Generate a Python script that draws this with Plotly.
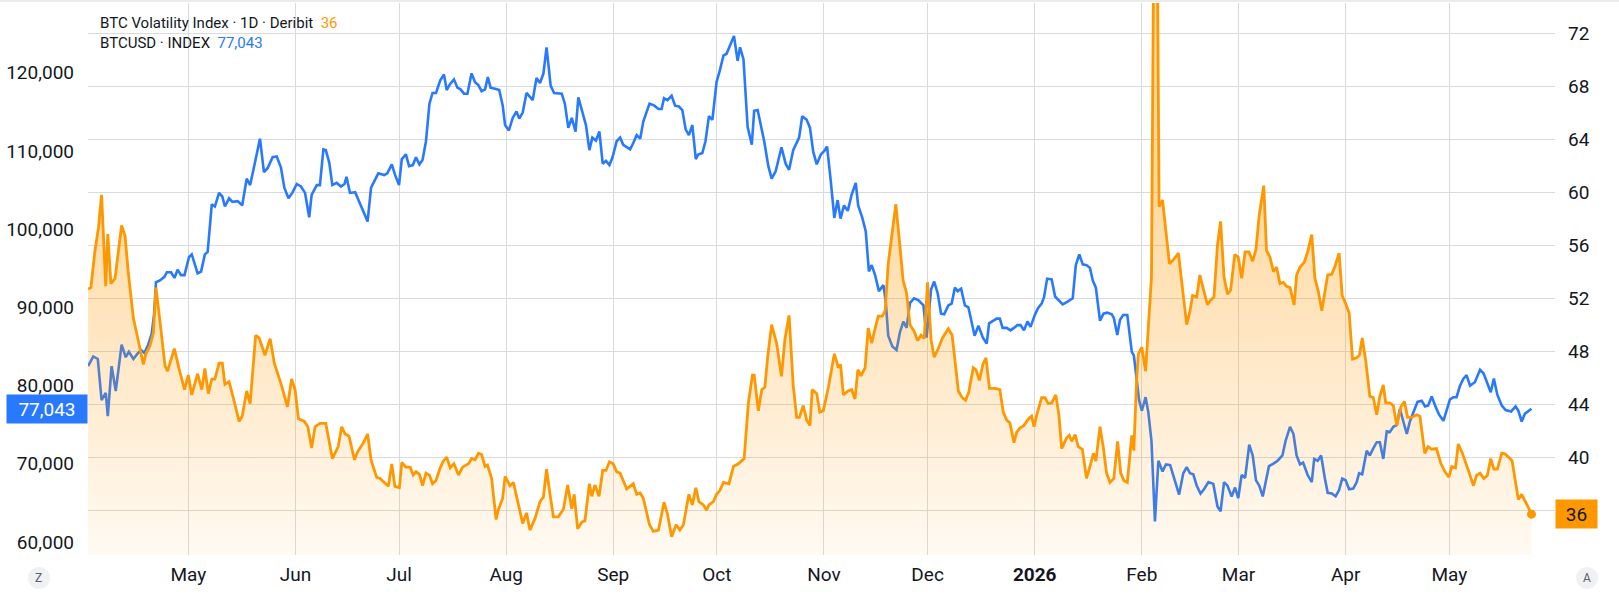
import pandas as pd
import plotly.graph_objects as go

BASE = pd.Timestamp("2025-05-01")

# ---- BTC Volatility Index (Deribit DVOL), days relative to 2025-05-01 ----
vol_days = [
    -29.0, -28.2, -27.0, -26.0, -25.1, -23.9, -23.3, -22.4, -21.2, -19.3, -18.3, -17.4, -15.9, -14.5,
    -13.0, -12.3, -11.1, -10.1, -9.35, -8.2, -6.74, -6.0, -4.04, -2.7, -1.1, 0.0, 1.0, 2.7, 3.9, 4.8,
    5.8, 6.8, 7.7, 8.9, 9.85, 10.6, 11.8, 13.3, 14.7, 15.6, 16.9, 17.9, 19.5, 20.5, 22.2, 23.7, 24.9,
    27.0, 28.7, 29.9, 30.9, 31.9, 33.6, 34.6, 35.7, 36.7, 38.1, 39.8, 41.7, 43.4, 44.4, 45.4, 46.5,
    48.1, 49.0, 50.7, 51.9, 52.9, 54.5,
    55.5, 56.7, 57.9, 58.9, 59.8, 61.1, 61.8, 63.0, 64.2, 65.1, 65.9, 66.9, 67.8, 68.8, 69.8, 70.7,
    71.7, 72.9, 73.8, 74.8, 75.8, 76.9, 78.2, 79.4, 81.1, 82.0, 83.0, 84.0, 84.9, 85.9, 86.6, 87.8,
    89.1, 89.7, 91.0, 91.7, 93.1, 94.1, 95.5, 96.8, 97.9, 98.9, 100.4, 101.8, 102.8, 103.7, 104.7,
    105.7, 107.1, 108.6, 109.8, 111.0, 111.7, 112.7, 113.9, 114.8, 116.1, 116.8, 117.7, 118.9, 119.95,
    120.9, 121.9, 123.0, 124.0, 125.0, 126.9, 128.8, 129.8, 130.8, 131.7, 133.5, 134.6, 136.1, 137.7,
    138.7, 139.9, 141.2,
    142.3, 143.3, 144.9, 145.9, 146.9, 147.8, 149.1, 150.0, 150.7, 152.0, 152.9, 153.9, 154.9, 156.5,
    157.8, 159.2, 160.9, 162.1, 163.3, 163.8, 165.0, 166.0, 166.9, 167.7, 168.85, 170.3, 171.7, 172.7,
    173.9, 175.1, 176.1, 176.9, 178.0, 179.0, 179.95, 180.6, 181.9, 182.8, 183.8, 185.3, 187.0, 188.2,
    188.8, 189.6, 191.0, 192.0, 193.0, 193.8, 194.7, 195.9, 196.8, 197.8, 198.8, 199.7, 200.9, 201.7,
    202.6, 203.8, 204.8, 206.0, 206.9, 207.9, 208.9, 210.1, 211.1, 212.1, 213.0, 214.0, 215.0, 215.9,
    217.1, 218.3, 219.0, 220.0, 221.1, 221.9, 222.9, 224.0, 225.0, 225.9,
    227.2, 228.0, 229.0, 230.0, 230.9, 231.9, 233.5, 234.9, 235.9, 236.9, 237.8, 239.0, 239.8, 240.7,
    241.9, 243.2, 244.1, 244.8, 245.6, 247.0, 248.0, 248.9, 249.9, 251.1, 252.0, 252.8, 254.2, 255.0,
    255.7, 256.7, 257.6, 258.8, 260.0, 261.0, 262.0, 262.7, 263.9, 264.9, 265.8, 266.8, 267.9, 269.0,
    269.9, 270.8, 271.8, 273.1, 273.7, 274.5, 275.0, 276.0, 277.1, 278.8, 279.6, 280.4, 281.0, 282.0,
    283.2, 284.0, 285.3, 286.6, 287.7, 289.0, 289.95, 290.7, 291.9, 292.8, 293.8, 295.0, 295.9, 296.9,
    297.9, 298.8, 299.8, 300.8, 301.7, 302.9, 303.9, 304.9, 305.9, 307.0, 308.1, 309.05, 310.0, 311.3,
    312.1, 313.1, 314.1, 315.0, 316.0, 317.0, 317.9, 318.9, 320.1, 320.8, 321.8, 323.0, 324.0, 325.2,
    326.1, 327.1, 328.1, 329.0, 329.8, 330.95, 331.9, 333.1, 334.0, 335.0, 336.0, 337.0, 338.2, 339.0,
    339.8, 340.8, 342.0, 343.0, 344.0, 344.9, 345.9, 346.6, 347.8, 348.8, 349.8, 351.0, 352.0, 352.95,
    354.1, 355.5, 356.5, 357.9, 358.9, 359.9, 361.3, 362.6, 363.75, 364.9, 365.7, 366.8, 367.6, 368.8,
    370.0, 371.0, 372.0, 372.9, 373.9, 375.0, 376.0, 377.0, 377.9, 378.9, 380.2, 381.1, 382.6, 383.2,
    384.0, 385.0, 385.95, 387.1, 387.9, 388.8,
]
vol_values = [
    52.7, 52.8, 55.6, 57.3, 59.8, 52.9, 56.85, 53.1, 53.5, 57.5, 56.7, 54.0, 50.5, 48.9,
    47.0, 47.8, 48.4, 49.4, 52.8, 50.25, 46.9, 46.5, 48.2, 46.7, 45.1, 46.2, 44.7, 46.3, 45.1, 46.7,
    44.8, 45.9, 45.9, 47.1, 47.1, 45.5, 45.7, 44.2, 42.7, 43.1, 45.0, 44.05, 49.2, 49.0, 47.7, 48.95, 47.1,
    45.4, 43.8, 45.9, 45.1, 42.9, 42.7, 42.3, 40.7, 42.3, 42.55, 42.55, 39.9, 40.8, 42.3, 41.75, 41.6,
    39.8, 40.4, 41.1, 41.75, 39.8, 38.5,
    38.4, 38.1, 37.8, 39.5, 37.8, 37.7, 39.6, 39.25, 39.25, 38.65, 38.9, 38.7, 37.85, 38.8, 38.65, 38.0,
    38.25, 39.2, 39.7, 40.0, 39.2, 39.5, 38.65, 39.25, 39.5, 39.9, 39.8, 40.3, 40.2, 39.3, 39.4, 38.4,
    35.3, 36.0, 36.9, 38.55, 37.85, 38.1, 36.5, 35.0, 35.8, 34.5, 35.4, 36.65, 37.0, 39.1, 37.2,
    35.5, 35.5, 36.1, 37.9, 36.1, 37.2, 34.6, 35.1, 35.2, 38.0, 37.05, 37.9, 37.05, 39.0,
    39.0, 39.65, 39.5, 38.9, 38.8, 37.6, 38.0, 37.2, 37.3, 36.9, 34.9, 34.4, 34.5, 36.6,
    35.7, 34.0, 34.9,
    34.5, 34.9, 37.2, 36.4, 37.7, 36.65, 36.4, 36.0, 36.4, 36.65, 37.2, 37.5, 38.1, 38.0,
    39.3, 39.5, 39.9, 44.05, 46.2, 46.2, 43.5, 45.1, 45.3, 47.55, 50.0, 48.6, 46.1, 48.9,
    50.7, 45.4, 43.0, 43.0, 43.9, 42.8, 42.4, 45.1, 44.8, 43.4, 43.5, 45.3, 47.8, 46.75,
    47.0, 44.7, 45.0, 45.1, 44.4, 46.6, 46.15, 46.75, 49.75, 48.6, 49.7, 50.65, 50.65, 51.05,
    54.6, 57.25, 59.1, 55.9, 53.35, 52.4, 50.0, 49.5, 48.8, 49.2, 48.95, 53.2, 48.85, 47.55,
    48.2, 49.0, 49.3, 49.7, 49.2, 47.3, 45.0, 44.5, 44.3, 44.9,
    46.75, 46.6, 45.8, 47.0, 47.5, 45.2, 45.2, 45.1, 43.4, 42.8, 42.6, 41.1, 41.9, 42.2,
    42.4, 42.9, 43.1, 42.3, 43.2, 44.5, 44.5, 44.05, 44.1, 44.7, 43.2, 40.65, 41.45, 41.65,
    41.2, 41.7, 40.8, 40.6, 38.4, 39.3, 40.3, 39.7, 42.3, 40.65, 38.8, 38.1, 38.4, 41.2,
    38.8, 38.25, 38.1, 41.65, 40.5, 45.9, 47.8, 48.3, 46.5, 53.6, 85.0, 82.0, 58.9, 59.4,
    56.7, 54.6, 54.95, 55.4, 52.9, 50.0, 51.05, 52.2, 52.1, 53.75, 52.7, 51.5, 51.85, 52.1,
    56.0, 57.8, 53.6, 52.3, 52.6, 55.3, 55.1, 53.5, 55.5, 55.5, 54.8, 55.7, 58.3, 60.5,
    55.6, 55.1, 54.0, 54.35, 53.1, 53.2, 52.9, 52.8, 51.5, 53.75, 54.35, 54.7, 55.5, 56.8,
    53.5, 52.5, 51.05, 52.5, 53.75, 53.8, 54.4, 55.4, 52.2, 51.6, 50.9, 47.4, 47.5, 47.7,
    49.0, 47.3, 44.6, 44.5, 43.2, 44.6, 45.45, 44.1, 44.1, 43.9, 42.4, 43.8, 44.2, 43.0,
    43.0, 43.2, 43.1, 40.3, 40.8, 40.6, 40.65, 39.5, 38.9, 38.5, 39.3, 39.2, 41.0, 40.3,
    39.3, 38.65, 37.85, 38.65, 38.8, 38.4, 38.6, 39.9, 39.1, 39.1, 40.3, 40.25, 39.9, 39.7,
    38.4, 36.8, 37.2, 36.65, 36.2, 35.7,
]

# ---- BTCUSD index price ----
btc_days = [
    -29.0, -27.5, -26.2, -25.1, -23.9, -23.3, -22.2, -21.0, -19.3, -18.1, -17.2, -15.9, -14.7, -13.7,
    -12.7, -11.6, -10.6, -9.9, -9.35, -8.2, -6.9, -6.2, -5.0, -4.0, -3.1, -2.1, -1.1, 0.2, 1.0, 2.7,
    3.7, 4.8, 5.6, 6.8, 7.7, 8.9, 9.85, 10.6, 11.8, 12.75, 14.3, 15.6, 16.9, 17.9, 19.3, 20.75, 21.9,
    23.0, 24.4, 25.6, 26.8, 27.8, 29.0, 30.1, 31.4, 32.6, 33.8, 35.0, 35.7, 37.2, 38.1, 39.1, 39.8,
    40.8, 41.7, 42.95, 44.2, 45.2, 45.8, 46.8, 48.3, 49.7, 51.1, 51.9, 52.9, 53.85, 55.0,
    56.7, 57.6, 58.9, 59.8, 61.0, 61.8, 63.0, 63.9, 65.0, 65.9, 66.9, 67.8, 68.8, 69.8, 70.7, 71.7,
    72.9, 74.0, 74.8, 75.8, 76.9, 77.9, 78.8, 79.8, 80.8, 82.0, 83.0, 83.95, 84.9, 85.9, 86.7, 87.5,
    88.8, 90.0, 91.0, 91.7, 92.8, 93.9, 95.0, 95.8, 96.8, 97.9, 99.7, 100.8, 101.8, 102.8, 103.7,
    104.9, 105.9, 108.1, 109.0, 110.0, 111.0, 112.1, 112.9, 114.3, 115.1, 116.1, 116.95, 118.0, 119.0,
    119.95, 120.9, 121.9, 122.8, 124.0, 125.0, 125.9, 127.9, 128.8, 129.8, 130.8, 131.7, 133.5, 134.8,
    136.1, 137.0, 137.7, 138.7, 139.9, 140.9,
    142.0, 143.0, 143.96, 144.9, 145.9, 146.9, 147.6, 148.8, 149.7, 150.7, 151.7, 152.9, 153.9, 154.9,
    155.8, 156.8, 157.95, 159.0, 159.7, 160.7, 161.9, 163.1, 163.8, 164.8, 165.8, 166.7, 167.9, 168.85,
    170.0, 171.7, 172.9, 173.9, 175.1, 176.8, 177.7, 179.0, 179.95, 180.9, 181.9, 183.1, 184.1, 184.9,
    186.0, 187.0, 187.95, 188.8, 189.8, 190.9, 192.0, 193.2, 193.9, 195.1, 196.1, 197.0, 197.8, 198.8,
    199.9, 201.2, 201.9, 202.6, 203.8, 205.0, 206.0, 207.0, 207.9, 208.9, 210.1, 211.3, 212.8, 213.7,
    215.0, 215.9, 216.9, 217.9, 218.8, 220.0, 220.95, 221.9, 222.7, 223.7, 224.8, 225.8,
    227.6, 228.7, 230.0, 231.1, 231.8, 233.2, 234.0, 234.9, 235.7, 236.9, 238.0, 239.0, 240.0, 240.9,
    241.9, 242.9, 243.8, 245.1, 246.0, 247.0, 247.7, 248.6, 249.9, 250.9, 251.8, 253.1, 254.4, 256.0,
    256.9, 257.9, 258.9, 260.0, 261.0, 261.8, 262.7, 263.9, 264.9, 266.0, 267.3, 267.9, 268.9, 269.7,
    270.6, 271.8, 272.4, 273.1, 273.7, 274.5, 275.2, 276.0, 277.1, 277.9, 278.8, 279.8, 280.8, 282.0,
    283.0, 284.2, 285.3, 286.8, 288.0, 289.0, 289.95, 290.9, 291.9, 293.0, 294.0, 295.3, 296.7, 297.9,
    298.8, 299.8, 300.8, 302.0, 303.0, 303.9, 304.9, 305.9, 307.1, 308.1, 309.05, 310.0, 311.0,
    312.8, 314.1, 315.3, 316.7, 317.6, 318.9, 319.9, 320.8, 321.8, 322.7, 324.0, 325.2, 325.9, 326.9,
    327.9, 329.0, 329.8, 331.0, 332.1, 333.1, 334.0, 335.0, 336.0, 337.2, 338.2, 338.9, 339.8, 341.1,
    342.0, 343.0, 344.0, 344.9, 345.9, 346.9, 347.8, 348.8, 349.8, 350.7, 351.7, 352.7, 353.6, 354.6,
    355.8, 357.0, 358.0, 358.9, 359.9, 361.1, 362.0, 363.3, 364.2, 365.2, 366.2, 367.1, 368.1, 369.1,
    370.0, 371.0, 372.4, 373.9, 374.9, 375.8, 377.0, 377.9, 378.9, 380.2, 381.3, 382.9, 384.2, 385.0,
    385.95, 386.9, 387.9, 388.8,
]
btc_values = [
    82490, 83725, 83405, 78155, 79065, 76100, 82490, 79300, 85230, 83630, 84320, 83405, 84090, 84550,
    84180, 85230, 86600, 89110, 93220, 93450, 93905, 94500, 94500, 93770, 94820, 94130, 94130, 96420, 96780, 94360,
    94590, 96780, 97100, 103180, 102900, 104640, 104180, 102900, 103950, 103500, 103590, 103040, 106460, 105640, 108520, 111580, 107290,
    107830, 109200, 109300, 107920, 105320, 103950, 104640, 105780, 105460, 104640, 101530, 104400, 105640, 105640, 110200, 110110,
    108520, 105640, 105920, 105460, 105780, 106690, 104640, 104730, 103180, 101670, 100980, 105320, 106100, 107150,
    106920, 107150, 108290, 107010, 105640, 108970, 109560, 108060, 108200, 109200, 108290, 108840, 111250, 116050, 117420, 117420,
    119020, 119800, 117790, 118570, 119160, 118100, 117880, 117330, 117330, 119930, 118790, 118430, 117650, 117880, 119470, 118100,
    117970, 117790, 115830, 113320, 112630, 114230, 115050, 114140, 114910, 117420, 116510, 119340, 118700, 119930, 123260,
    118330, 117420, 117330, 116050, 112950, 114230, 112490, 116870, 114770, 113320, 110110, 111710, 111340, 112490,
    108380, 108740, 108200, 109200, 111250, 111710, 110790, 110200, 111020, 112030, 111570, 113770, 116050, 115830,
    115370, 115370, 116740, 116510, 117060, 115800,
    115690, 115230, 112770, 112030, 113320, 108970, 109560, 109750, 111250, 114450, 113990, 118790, 120380, 122210,
    122440, 123580, 124720, 121520, 123260, 121750, 113090, 110800, 115140, 115230, 113320, 111250, 108060, 106460,
    107380, 110480, 108380, 107600, 110110, 111710, 114450, 113990, 112950, 109880, 108290, 109560, 110020, 110570,
    106010, 101440, 103720, 101350, 103040, 102350, 104400, 105910, 103040, 101440, 99700, 94590, 95410, 94130,
    92080, 92850, 90710, 86370, 85000, 84550, 86830, 88200, 87380, 90570, 91160, 90930, 90250, 86140,
    92300, 93310, 91850, 89200, 89110, 90250, 90480, 92530, 92080, 92390, 90250, 90020,
    86370, 87650, 86140, 85370, 87970, 88290, 88570, 88570, 87380, 87380, 87060, 87380, 87740, 87740,
    87060, 88200, 87510, 89110, 89930, 90480, 91300, 93680, 93590, 91390, 90930, 90390, 90710, 91160,
    95410, 96780, 95500, 95410, 95040, 93450, 92530, 88290, 89200, 89330, 89110, 88660, 86460, 88430,
    89020, 89020, 86830, 84320, 83860, 80890, 78150, 76780, 78520, 76550, 72900, 62630, 70390, 69020,
    69930, 69840, 68110, 66060, 68790, 69570, 68790, 68650, 67200, 66200, 66740, 67660, 67430, 64550,
    63910, 67660, 67200, 65830, 66970, 65600, 68560, 68200, 72440, 71070, 67890, 67200, 65830,
    69700, 70020, 70390, 71070, 72900, 74730, 73810, 71070, 69930, 70160, 68560, 67660, 70620, 70390,
    71070, 68110, 66290, 66200, 65830, 66650, 68110, 67890, 66740, 66830, 67660, 68790, 68650, 71660,
    71070, 71980, 72760, 72760, 70620, 74140, 74050, 74730, 74960, 77010, 75410, 73810, 75410, 76550,
    77920, 78060, 77330, 77460, 78610, 77240, 76320, 75500, 76780, 78240, 78520, 78520, 79980, 80890,
    81350, 79980, 80430, 82030, 81570, 80520, 79160, 80890, 78840, 77460, 76870, 76690, 77330, 76780,
    75410, 76410, 76780, 77043,
]

month_ticks = ["2025-05-01", "2025-06-01", "2025-07-01", "2025-08-01", "2025-09-01", "2025-10-01",
               "2025-11-01", "2025-12-01", "2026-01-01", "2026-02-01", "2026-03-01", "2026-04-01",
               "2026-05-01"]
month_labels = ["May", "Jun", "Jul", "Aug", "Sep", "Oct", "Nov", "Dec", "<b>2026</b>", "Feb", "Mar",
                "Apr", "May"]
price_ticks = [60000, 70000, 80000, 90000, 100000, 110000, 120000]
vol_ticks = [36, 40, 44, 48, 52, 56, 60, 64, 68, 72]
# the 36 label is hidden behind the last-value badge, as in the original
vol_tick_labels = ["", "40", "44", "48", "52", "56", "60", "64", "68", "72"]

last_vol_label = "36"
last_btc_label = "77,043"

ORANGE = "#FF9800"
BLUE = "#2979FF"
TEXT = "#131722"
GRID = "#d9dadd"
FONT = "Trebuchet MS, Roboto, sans-serif"
AXIS_SIZE = 19


def to_dates(days):
    return [BASE + pd.Timedelta(days=float(d)) for d in days]


vol_dates = to_dates(vol_days)
btc_dates = to_dates(btc_days)

fig = go.Figure()
fig.add_trace(go.Scatter(
    x=btc_dates, y=btc_values, mode="lines", yaxis="y",
    line=dict(color=BLUE, width=2.6), hoverinfo="skip", showlegend=False,
))
fig.add_trace(go.Scatter(
    x=vol_dates, y=vol_values, mode="lines", yaxis="y2",
    line=dict(color=ORANGE, width=2.8), fill="tozeroy",
    fillgradient=dict(type="vertical", start=32.6, stop=60,
                      colorscale=[[0, "rgba(255,152,0,0.05)"], [1, "rgba(255,152,0,0.36)"]]),
    hoverinfo="skip", showlegend=False,
))
fig.add_trace(go.Scatter(
    x=[vol_dates[-1]], y=[vol_values[-1]], mode="markers", yaxis="y2",
    marker=dict(color=ORANGE, size=9), hoverinfo="skip", showlegend=False,
))

L, R, T, B = 88, 64, 3, 42
W, H = 1619, 597
PW, PH = W - L - R, H - T - B


def px(xp):
    return (xp - L) / PW


def py(yp):
    return (H - B - yp) / PH


annotations = [
    dict(xref="paper", yref="paper", x=px(98), y=py(22.7), xanchor="left", yanchor="middle",
         showarrow=False, align="left",
         text=f"BTC Volatility Index · 1D · Deribit&nbsp; <span style='color:{ORANGE}'>{last_vol_label}</span>",
         font=dict(family=FONT, size=15, color=TEXT)),
    dict(xref="paper", yref="paper", x=px(98), y=py(42.7), xanchor="left", yanchor="middle",
         showarrow=False, align="left",
         text=f"BTCUSD · INDEX&nbsp; <span style='color:{BLUE}'>{last_btc_label}</span>",
         font=dict(family=FONT, size=15, color=TEXT)),
    dict(xref="paper", yref="y", x=0, y=btc_values[-1], xanchor="right", yanchor="middle",
         showarrow=False, text=last_btc_label, bgcolor=BLUE, width=72, height=20, borderpad=4,
         font=dict(family=FONT, size=AXIS_SIZE, color="white")),
    dict(xref="paper", yref="y2", x=1, y=vol_values[-1], xanchor="left", yanchor="middle",
         showarrow=False, text=last_vol_label, bgcolor=ORANGE, width=33, height=20, borderpad=4,
         font=dict(family=FONT, size=AXIS_SIZE, color=TEXT)),
    dict(xref="paper", yref="paper", x=px(39), y=py(578), xanchor="center", yanchor="middle",
         showarrow=False, text="Z", font=dict(family=FONT, size=12, color="#5d606b")),
    dict(xref="paper", yref="paper", x=px(1587), y=py(578), xanchor="center", yanchor="middle",
         showarrow=False, text="A", font=dict(family=FONT, size=12, color="#5d606b")),
]

shapes = [
    dict(type="circle", xref="paper", yref="paper", x0=px(28), x1=px(50), y0=py(589), y1=py(567),
         fillcolor="#f0f1f4", line=dict(width=0), layer="below"),
    dict(type="circle", xref="paper", yref="paper", x0=px(1576), x1=px(1598), y0=py(589), y1=py(567),
         fillcolor="#f0f1f4", line=dict(width=0), layer="below"),
    dict(type="line", xref="paper", yref="paper", x0=px(0), x1=px(W), y0=py(1), y1=py(1),
         line=dict(color="#ececec", width=2)),
]

fig.update_layout(
    width=W, height=H,
    margin=dict(l=L, r=R, t=T, b=B),
    paper_bgcolor="white", plot_bgcolor="white",
    font=dict(family=FONT, size=AXIS_SIZE, color=TEXT),
    showlegend=False,
    xaxis=dict(
        type="date",
        range=[BASE + pd.Timedelta(days=-29.03), BASE + pd.Timedelta(days=395.6)],
        tickvals=month_ticks, ticktext=month_labels,
        showgrid=True, gridcolor=GRID, gridwidth=1, zeroline=False, showline=False,
        ticks="", ticklabelstandoff=6,
        tickfont=dict(family=FONT, size=AXIS_SIZE, color=TEXT),
    ),
    yaxis=dict(
        range=[58338, 128926], tickvals=price_ticks, tickformat=",",
        showgrid=False, zeroline=False, showline=False, ticks="", side="left",
        ticklabelstandoff=13, tickfont=dict(family=FONT, size=AXIS_SIZE, color=TEXT),
    ),
    yaxis2=dict(
        range=[32.62, 74.28], tickvals=vol_ticks, ticktext=vol_tick_labels,
        overlaying="y", side="right",
        showgrid=True, gridcolor=GRID, gridwidth=1, zeroline=False, showline=False, ticks="",
        ticklabelstandoff=12, tickfont=dict(family=FONT, size=AXIS_SIZE, color=TEXT),
    ),
    annotations=annotations,
    shapes=shapes,
)

fig.write_html("out.html")
